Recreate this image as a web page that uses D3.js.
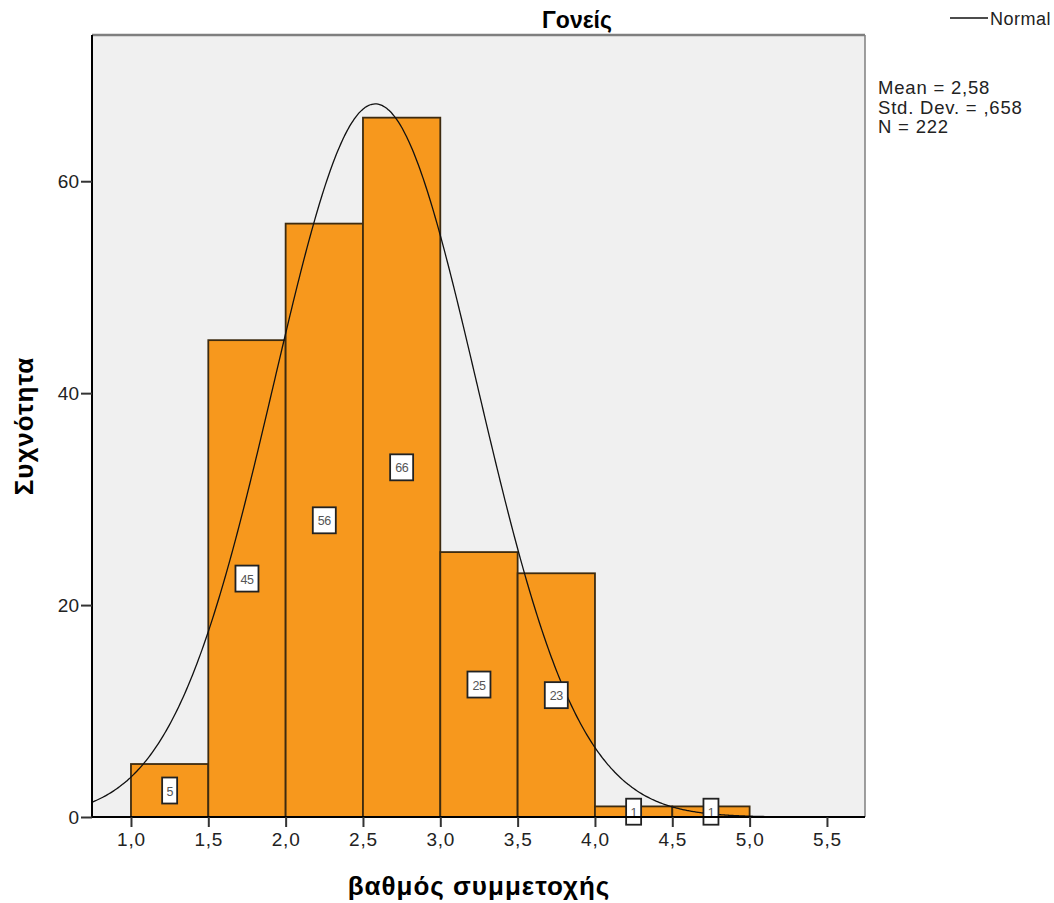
<!DOCTYPE html>
<html>
<head>
<meta charset="utf-8">
<script src="https://cdn.jsdelivr.net/npm/d3@7"></script>
<style>
  body { margin: 0; background: #fff; }
  text { font-family: "Liberation Sans", Arial, sans-serif; }
</style>
</head>
<body>
<svg id="chart"></svg>
<script>
// histogram bins (lower edge, upper edge) and counts
var binStarts = [1.0, 1.5, 2.0, 2.5, 3.0, 3.5, 4.0, 4.5]
var binEnds   = [1.5, 2.0, 2.5, 3.0, 3.5, 4.0, 4.5, 5.0]
var counts    = [5, 45, 56, 66, 25, 23, 1, 1]
var xTicks = [1.0, 1.5, 2.0, 2.5, 3.0, 3.5, 4.0, 4.5, 5.0, 5.5]
var yTicks = [0, 20, 40, 60]
var statLines = ["Mean = 2,58", "Std. Dev. = ,658", "N = 222"]
var mean = 2.58, sd = 0.658, n = 222, binWidth = 0.5

var screen = {width: 1054, height: 903}
var margins = {top: 35, right: 189, bottom: 86, left: 92}
var width = screen.width - margins.left - margins.right
var height = screen.height - margins.top - margins.bottom

var svg = d3.select("#chart")
    .attr("width", screen.width)
    .attr("height", screen.height)

var xScale = d3.scaleLinear().domain([0.748, 5.746]).range([0, width])
var yScale = d3.scaleLinear().domain([0, 73.8]).range([height, 0])

var g = svg.append("g")
    .attr("id", "graph")
    .attr("transform", "translate(" + margins.left + "," + margins.top + ")")

// background + frame
g.append("rect")
    .attr("width", width).attr("height", height)
    .attr("fill", "#f0f0f0")
g.append("line").attr("x1", 0).attr("x2", width).attr("y1", 0).attr("y2", 0)
    .attr("stroke", "#7f7f7f").attr("stroke-width", 2.5)
g.append("line").attr("x1", width).attr("x2", width).attr("y1", 0).attr("y2", height)
    .attr("stroke", "#7f7f7f").attr("stroke-width", 1.5)

var bins = counts.map(function(c, i){ return {x0: binStarts[i], x1: binEnds[i], count: c} })

g.selectAll("rect.bar")
    .data(bins)
    .enter()
    .append("rect")
    .attr("class", "bar")
    .attr("x", function(d){ return xScale(d.x0) })
    .attr("y", function(d){ return yScale(d.count) })
    .attr("width", function(d){ return xScale(d.x1) - xScale(d.x0) })
    .attr("height", function(d){ return yScale(0) - yScale(d.count) })
    .attr("fill", "#f7981d")
    .attr("stroke", "#3d2b10")
    .attr("stroke-width", 1.8)

// fitted normal curve from the stated mean / sd / N
var curveXs = d3.range(0.748, 5.746, 0.01)
var lineGenerator = d3.line()
    .x(function(v){ return xScale(v) })
    .y(function(v){
        var z = (v - mean) / sd
        return yScale(n * binWidth / (sd * Math.sqrt(2 * Math.PI)) * Math.exp(-0.5 * z * z))
    })
    .curve(d3.curveBasis)

g.append("path")
    .attr("d", lineGenerator(curveXs))
    .attr("fill", "none")
    .attr("stroke", "#111")
    .attr("stroke-width", 1.3)

// value labels
var labels = g.selectAll("g.lab")
    .data(bins)
    .enter()
    .append("g")
    .attr("class", "lab")
    .attr("transform", function(d){
        return "translate(" + xScale((d.x0 + d.x1) / 2) + "," + yScale(d.count / 2) + ")"
    })
labels.append("rect")
    .attr("x", function(d){ return d.count >= 10 ? -11.5 : -7.5 })
    .attr("y", -13)
    .attr("width", function(d){ return d.count >= 10 ? 23 : 15 })
    .attr("height", 26)
    .attr("fill", "#fff")
    .attr("stroke", "#222")
    .attr("stroke-width", 1.8)
labels.append("text")
    .text(function(d){ return d.count })
    .attr("text-anchor", "middle")
    .attr("y", 5)
    .attr("font-size", 12.5)
    .attr("letter-spacing", -0.5)
    .attr("fill", "#555")

// axes
var xAxis = d3.axisBottom(xScale).tickValues(xTicks)
    .tickFormat(function(v){ return d3.format(".1f")(v).replace(".", ",") })
    .tickSize(10).tickSizeOuter(0)
var yAxis = d3.axisLeft(yScale).tickValues(yTicks).tickSize(11).tickSizeOuter(0)

var gx = g.append("g").attr("transform", "translate(0," + height + ")").call(xAxis)
var gy = g.append("g").call(yAxis)
gx.select(".domain").attr("stroke", "#000").attr("stroke-width", 2)
    .attr("d", "M0,0H" + width)
gy.select(".domain").attr("stroke", "#000").attr("stroke-width", 2)
    .attr("d", "M0," + height + "V0")
gx.selectAll(".tick line").attr("stroke", "#333").attr("stroke-width", 2)
gy.selectAll(".tick line").attr("stroke", "#333").attr("stroke-width", 2)
gx.selectAll(".tick text").attr("font-size", 19).attr("fill", "#222")
    .attr("y", 11).attr("dy", "0.95em").attr("letter-spacing", 0.8)
    .attr("font-family", "'Liberation Sans', Arial, sans-serif")
gy.selectAll(".tick text").attr("font-size", 19).attr("fill", "#222").attr("x", -13)
    .attr("font-family", "'Liberation Sans', Arial, sans-serif")

// titles
svg.append("text").text("Γονείς")
    .attr("x", 577).attr("y", 28)
    .attr("text-anchor", "middle")
    .attr("font-size", 23).attr("font-weight", "bold")
    .attr("font-family", "'DejaVu Sans', sans-serif")

svg.append("text").text("βαθμός συμμετοχής")
    .attr("x", 479).attr("y", 895)
    .attr("text-anchor", "middle")
    .attr("font-size", 26).attr("font-weight", "bold")
    .attr("letter-spacing", 1)
    .attr("font-family", "'DejaVu Sans', sans-serif")

svg.append("text").text("Συχνότητα")
    .attr("transform", "translate(33,426) rotate(-90)")
    .attr("text-anchor", "middle")
    .attr("font-size", 26).attr("font-weight", "bold")
    .attr("letter-spacing", 1)
    .attr("font-family", "'DejaVu Sans', sans-serif")

// legend
svg.append("line").attr("x1", 950).attr("x2", 988).attr("y1", 18).attr("y2", 18)
    .attr("stroke", "#111").attr("stroke-width", 1.3)
svg.append("text").text("Normal").attr("x", 990).attr("y", 25)
    .attr("font-size", 18).attr("letter-spacing", 0.5).attr("fill", "#222")

svg.selectAll("text.stat")
    .data(statLines)
    .enter()
    .append("text")
    .attr("class", "stat")
    .text(function(d){ return d })
    .attr("x", 878)
    .attr("y", function(d, i){ return 94 + i * 19.5 })
    .attr("font-size", 18.5).attr("letter-spacing", 0.8).attr("fill", "#222")
</script>
</body>
</html>
